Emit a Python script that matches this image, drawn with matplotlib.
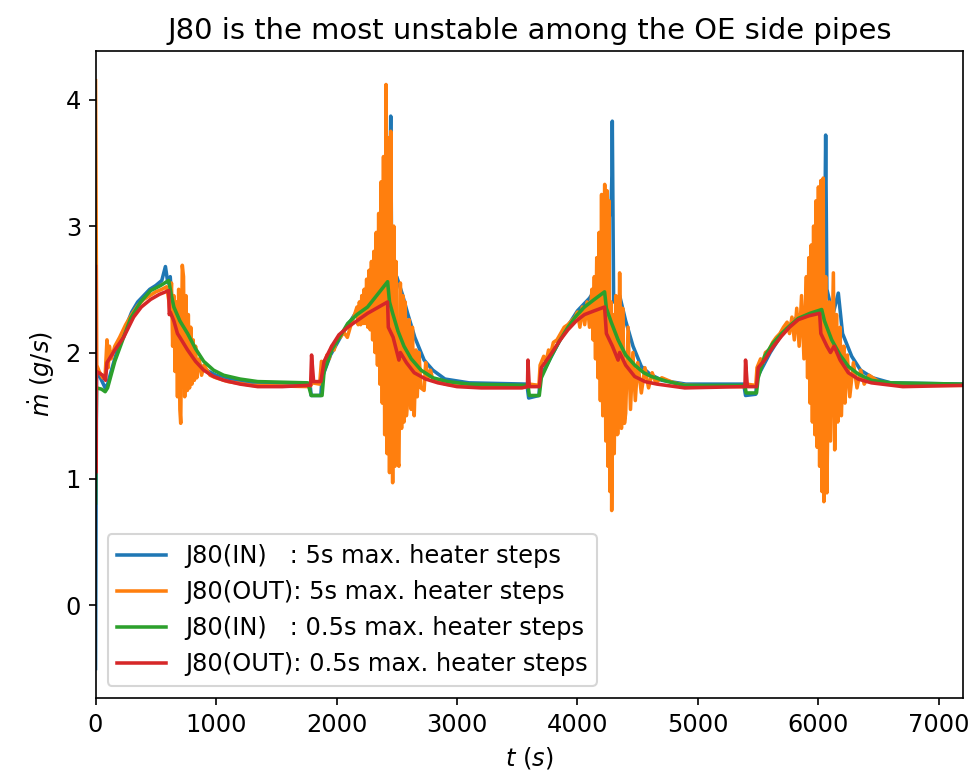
import matplotlib
matplotlib.use("Agg")
import matplotlib.pyplot as plt

# J80(IN), 5 s max. heater steps
t_in5 = [0, 8, 40, 80, 100, 150, 200, 250, 300, 350, 400, 450, 500, 550, 580, 600, 620, 640, 660, 680, 690, 720, 760, 800, 850, 900, 1000, 1100, 1300,
         1780, 1790, 1870, 1880, 1950, 2050, 2150, 2250, 2286, 2342, 2380, 2420, 2445, 2450, 2460, 2500, 2550, 2590, 2650, 2727, 2800, 2900, 3100,
         3580, 3595, 3680, 3690, 3800, 3900, 4000, 4100, 4180, 4230, 4280, 4286, 4289, 4300, 4350, 4400, 4461, 4530, 4600, 4700, 4900,
         5380, 5395, 5480, 5490, 5600, 5700, 5800, 5900, 5980, 6040, 6056, 6060, 6070, 6120, 6165, 6200, 6276, 6350, 6450, 6600, 7200]
m_in5 = [-0.50, 1.85, 1.80, 1.72, 1.75, 1.92, 2.08, 2.20, 2.32, 2.40, 2.45, 2.50, 2.53, 2.57, 2.68, 2.55, 2.60, 2.30, 2.20, 1.94, 2.25, 2.15, 2.10, 2.00, 1.92, 1.87, 1.82, 1.79, 1.76,
         1.75, 1.66, 1.66, 1.80, 1.98, 2.15, 2.30, 2.42, 2.52, 2.73, 2.80, 3.20, 3.40, 3.87, 2.30, 2.60, 2.45, 2.31, 2.12, 1.94, 1.86, 1.79, 1.76,
         1.75, 1.64, 1.66, 1.80, 2.00, 2.18, 2.33, 2.43, 2.55, 2.80, 3.20, 3.40, 3.83, 2.40, 2.45, 2.25, 2.05, 1.89, 1.83, 1.78, 1.75,
         1.75, 1.66, 1.67, 1.80, 2.00, 2.15, 2.26, 2.35, 2.45, 3.00, 3.30, 3.72, 2.50, 2.30, 2.47, 2.15, 1.97, 1.86, 1.80, 1.76, 1.75]

# J80(OUT), 5 s max. heater steps
t_out5 = [0, 10, 30, 60, 80, 95, 105, 115, 130, 160, 200, 250, 300, 350, 400, 450, 500, 550, 590, 610, 620, 630, 640, 650, 660, 670, 680, 690, 700,
          707, 720, 730, 740, 750, 762, 770, 780, 790, 800, 810, 820, 830, 840, 860, 880, 900, 950, 1000, 1100, 1300, 1780,
          1800, 1860, 1875, 1900, 1920, 1940, 1960, 1980, 2000, 2030, 2060, 2090, 2120, 2150, 2170, 2180, 2190, 2200, 2210, 2220, 2230, 2240,
          2250, 2260, 2270, 2280, 2290, 2300, 2310, 2320, 2330, 2340, 2350, 2360, 2370, 2380, 2390, 2400, 2411, 2420, 2430, 2440, 2450,
          2466, 2475, 2485, 2494, 2505, 2518, 2530, 2540, 2550, 2560, 2570, 2580, 2590, 2602, 2620, 2630, 2645, 2660, 2670, 2685,
          2700, 2727, 2740, 2760, 2780, 2800, 2850, 2900, 3000, 3500,
          3580, 3600, 3680, 3690, 3720, 3740, 3760, 3780, 3800, 3830, 3860, 3890, 3920, 3950, 3980, 4000, 4020, 4040, 4060, 4080, 4100,
          4120, 4130, 4140, 4150, 4160, 4170, 4180, 4190, 4200, 4210, 4226, 4235, 4245, 4253, 4262, 4270, 4278, 4284, 4295, 4305, 4318,
          4330, 4337, 4350, 4365, 4375, 4390, 4400, 4420, 4440, 4460, 4480, 4500, 4530, 4560, 4590, 4620, 4650, 4700, 4800, 4900, 5380,
          5400, 5480, 5490, 5520, 5540, 5560, 5590, 5620, 5650, 5680, 5710, 5740, 5760, 5780, 5800, 5820, 5840, 5860, 5880, 5900, 5910,
          5920, 5930, 5940, 5950, 5960, 5970, 5980, 5990, 6000, 6010, 6020, 6030, 6040, 6045, 6060, 6070, 6090, 6100, 6124, 6135, 6150,
          6160, 6180, 6190, 6210, 6220, 6240, 6260, 6290, 6320, 6350, 6380, 6420, 6500, 6700, 7200]
m_out5 = [4.15, 1.90, 1.85, 1.80, 1.82, 2.10, 1.88, 2.05, 1.95, 2.05, 2.12, 2.22, 2.30, 2.37, 2.42, 2.45, 2.48, 2.50, 2.52, 2.40, 2.30, 2.55, 2.05, 2.45, 1.85, 2.40, 1.65, 2.50, 1.55,
          1.44, 2.69, 2.60, 1.65, 2.45, 1.70, 2.30, 1.72, 2.20, 1.75, 2.10, 1.78, 2.05, 1.80, 1.95, 1.82, 1.90, 1.82, 1.80, 1.77, 1.74, 1.73,
          1.76, 1.75, 1.93, 1.90, 1.98, 1.95, 2.05, 2.02, 2.10, 2.12, 2.16, 2.12, 2.22, 2.30, 2.36, 2.22, 2.40, 2.22, 2.45, 2.23, 2.50, 2.23,
          2.58, 2.20, 2.65, 2.18, 2.72, 2.10, 2.80, 2.00, 2.95, 1.90, 3.10, 1.75, 3.35, 1.60, 3.55, 1.35, 4.12, 1.20, 3.70, 1.05, 3.75,
          0.97, 3.00, 1.10, 2.72, 1.15, 1.10, 2.55, 1.40, 2.45, 1.45, 2.40, 1.50, 1.62, 2.26, 1.55, 2.20, 1.50, 2.02, 1.65, 2.00,
          1.72, 1.70, 1.92, 1.80, 1.86, 1.78, 1.78, 1.75, 1.74, 1.73,
          1.73, 1.75, 1.74, 1.90, 1.97, 1.93, 2.02, 2.00, 2.08, 2.10, 2.15, 2.20, 2.22, 2.25, 2.28, 2.32, 2.20, 2.36, 2.22, 2.40, 2.20,
          2.50, 2.10, 2.60, 1.95, 2.75, 1.80, 2.95, 1.62, 3.25, 1.50, 3.33, 1.30, 3.28, 1.10, 3.20, 0.90, 2.40, 0.75, 2.30, 1.20, 2.45,
          1.35, 1.36, 2.63, 1.40, 2.35, 1.44, 1.52, 2.20, 1.55, 2.00, 1.62, 1.92, 1.68, 1.88, 1.72, 1.84, 1.76, 1.80, 1.76, 1.74, 1.73,
          1.75, 1.74, 1.88, 1.95, 1.92, 2.00, 2.02, 2.08, 2.12, 2.15, 2.20, 2.24, 2.15, 2.28, 2.10, 2.35, 2.05, 2.45, 1.95, 2.60, 1.80,
          2.75, 1.60, 2.85, 1.45, 3.00, 1.35, 3.20, 1.25, 3.31, 1.10, 3.36, 0.90, 3.38, 0.82, 2.60, 0.89, 2.40, 1.30, 2.63, 1.23, 2.30,
          1.45, 2.20, 1.50, 2.05, 1.60, 1.98, 1.65, 1.92, 1.72, 1.86, 1.75, 1.82, 1.77, 1.74, 1.74]

# J80(IN), 0.5 s max. heater steps
t_in05 = [0, 8, 50, 80, 100, 160, 233, 291, 374, 457, 540, 607, 630, 650, 700, 764, 830, 898, 980, 1064, 1200, 1346, 1762,
          1790, 1880, 1897, 1960, 2062, 2093, 2170, 2258, 2424, 2440, 2466, 2510, 2560, 2620, 2702, 2800, 2923, 3100, 3590,
          3600, 3683, 3700, 3782, 3850, 3921, 3990, 4058, 4140, 4225, 4240, 4280, 4337, 4400, 4475, 4550, 4614, 4750, 4890, 5390,
          5400, 5486, 5500, 5553, 5620, 5694, 5760, 5833, 5930, 6027, 6050, 6110, 6180, 6248, 6330, 6440, 6600, 7200]
m_in05 = [0.81, 1.72, 1.71, 1.69, 1.72, 1.93, 2.12, 2.27, 2.40, 2.49, 2.53, 2.57, 2.45, 2.36, 2.25, 2.15, 2.03, 1.93, 1.86, 1.82, 1.79, 1.77, 1.76,
          1.66, 1.66, 1.85, 2.02, 2.18, 2.23, 2.30, 2.36, 2.56, 2.40, 2.31, 2.17, 2.05, 1.95, 1.86, 1.80, 1.77, 1.75, 1.74,
          1.66, 1.66, 1.80, 1.97, 2.09, 2.20, 2.29, 2.36, 2.42, 2.48, 2.35, 2.24, 2.10, 1.98, 1.90, 1.84, 1.81, 1.77, 1.74, 1.74,
          1.68, 1.68, 1.80, 1.97, 2.07, 2.15, 2.21, 2.27, 2.31, 2.34, 2.25, 2.10, 1.98, 1.89, 1.83, 1.78, 1.76, 1.75]

# J80(OUT), 0.5 s max. heater steps
t_out05 = [0, 3, 8, 60, 83, 95, 160, 233, 316, 380, 457, 530, 607, 612, 620, 650, 680, 700, 764, 830, 898, 980, 1064, 1200, 1346, 1550, 1762,
           1785, 1793, 1810, 1870, 1897, 1960, 2020, 2093, 2258, 2424, 2430, 2470, 2518, 2530, 2580, 2645, 2740, 2842, 3000, 3200, 3540,
           3585, 3589, 3600, 3683, 3700, 3782, 3850, 3921, 3990, 4058, 4140, 4225, 4240, 4290, 4337, 4350, 4400, 4475, 4560, 4660, 4890,
           5380, 5390, 5395, 5410, 5486, 5500, 5553, 5620, 5694, 5760, 5833, 5920, 6010, 6020, 6070, 6100, 6130, 6180, 6248, 6330, 6440, 6700, 7200]
m_out05 = [2.68, 1.05, 1.85, 1.82, 1.78, 1.92, 2.02, 2.12, 2.28, 2.36, 2.42, 2.46, 2.49, 2.30, 2.32, 2.25, 2.15, 2.12, 2.02, 1.93, 1.86, 1.81, 1.78, 1.75, 1.73, 1.73, 1.74,
           1.74, 1.98, 1.77, 1.77, 1.93, 2.05, 2.14, 2.20, 2.31, 2.40, 2.20, 2.12, 1.94, 2.00, 1.92, 1.84, 1.79, 1.76, 1.73, 1.72, 1.72,
           1.73, 1.94, 1.73, 1.73, 1.88, 1.99, 2.09, 2.18, 2.25, 2.30, 2.33, 2.36, 2.15, 2.05, 1.94, 2.00, 1.90, 1.81, 1.77, 1.75, 1.72,
           1.73, 1.73, 1.94, 1.73, 1.73, 1.88, 1.94, 2.04, 2.13, 2.20, 2.26, 2.29, 2.31, 2.15, 2.05, 2.00, 2.05, 1.94, 1.84, 1.79, 1.76, 1.73, 1.74]

labels = ["J80(IN)   : 5s max. heater steps",
          "J80(OUT): 5s max. heater steps",
          "J80(IN)   : 0.5s max. heater steps",
          "J80(OUT): 0.5s max. heater steps"]

plt.rcParams['font.size'] = 11.6
plt.rcParams['lines.linewidth'] = 1.7

fig = plt.figure(figsize=(9.70 / 1.5, 7.79 / 1.5), dpi=150)
ax = fig.add_axes([0.0985, 0.104, 0.8943, 0.8305])
ax.plot(t_in5, m_in5, label=labels[0])
ax.plot(t_out5, m_out5, label=labels[1])
ax.plot(t_in05, m_in05, label=labels[2])
ax.plot(t_out05, m_out05, label=labels[3])
ax.set_xlim(0, 7200)
ax.set_ylim(-0.733, 4.385)
ax.set_xlabel(r'$t$ $(s)$')
ax.set_ylabel(r'$\dot{m}$ $(g/s)$')
ax.set_title('J80 is the most unstable among the OE side pipes')
ax.legend(loc='lower left')
fig.savefig('out.png', dpi=150)
